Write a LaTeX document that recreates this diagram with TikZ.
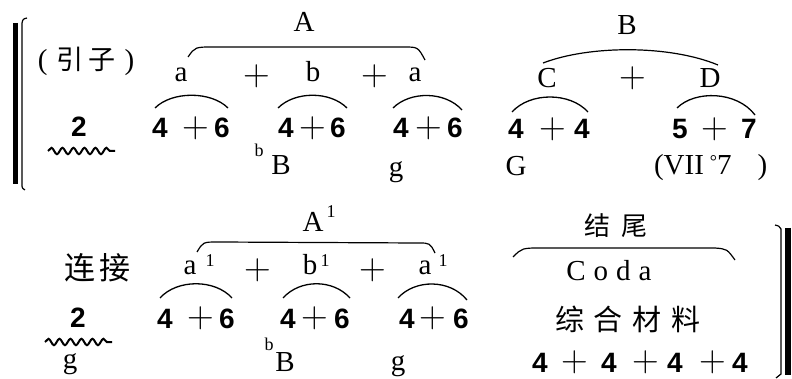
\documentclass[tikz,border=0pt]{standalone}
\usepackage{fontspec}
\setmainfont{Liberation Serif}
\newfontfamily\numfam{Liberation Sans}
\newfontfamily\cjk{Noto Sans CJK SC}
\newfontfamily\lmr{Latin Modern Roman}
\usetikzlibrary{decorations.pathmorphing}
\tikzset{
  txt/.style={inner sep=0pt, outer sep=0pt, font=\fontsize{29}{29}\selectfont},
  sup/.style={inner sep=0pt, outer sep=0pt, font=\fontsize{18}{18}\selectfont, anchor=base},
  lab/.style={txt, anchor=base},
  pls/.style={inner sep=0pt, outer sep=0pt, font=\lmr\fontsize{37}{37}\selectfont},
  dig/.style={inner sep=0pt, outer sep=0pt, anchor=base, font=\numfam\bfseries\fontsize{28}{28}\selectfont},
  cj/.style={inner sep=0pt, outer sep=0pt},
  arcl/.style={line width=1.3pt},
  bigarc/.style={line width=1.2pt},
  wave/.style={line width=2pt, decorate, decoration={snake, segment length=11pt, amplitude=3.2pt}}
}
\newcommand\dg[4]{\node[dig] (#1) at (#2,#3) {#4};}
\newcommand\pp[3]{\node[pls] (#1) at (#2,#3) {+};}
\begin{document}
\begin{tikzpicture}[x=1pt,y=-1pt]
\useasboundingbox (0,0) rectangle (792,379);
% ---------- left bracket ----------
\draw[line width=5pt] (15,23) -- (15,184);
\draw[line width=1.2pt] (27,18) .. controls (23,19) .. (22,23) -- (22,184) .. controls (22,188) .. (25,190);
% ---------- right bracket ----------
\draw[line width=6pt] (788,228) -- (788,375);
\draw[line width=1.2pt] (775,225) .. controls (779,226) .. (781,229) -- (781,374) .. controls (779,376) .. (776,378);

% ---------- row 1 ----------
\node[cj] (intro) at (86,61) {\fontsize{29}{29}\selectfont(\hspace{9pt}{\cjk\fontsize{27}{27}\selectfont 引\hspace{5pt}子}\hspace{9pt})};
\dg{two1}{79}{137}{2}
\coordinate (w1a) at (48,151);
\coordinate (w1b) at (115,151);
\draw[wave] (w1a) -- (w1b);

\node[lab] (Alab) at (304,32) {A};
\draw[bigarc] (188,57) .. controls (195,47) .. (214,47) -- (404,47) .. controls (418,47) .. (425,60);
\node[lab] (a1) at (181,82) {a};
\pp{p1}{257}{76}
\node[lab] (b1) at (313,82) {b};
\pp{p2}{375}{76}
\node[lab] (a2) at (415,82) {a};

\node[lab] (Blab) at (627,35) {B};
\draw[bigarc] (543,63) .. controls (590,45) and (670,45) .. (718,65);
\node[lab] (C) at (547,88) {C};
\pp{p3}{633}{78}
\node[lab] (D) at (710,88) {D};

\draw[arcl] (155,108) .. controls (172,91) and (211,91) .. (228,108);
\draw[arcl] (278,108) .. controls (295,91) and (330,91) .. (347,108);
\draw[arcl] (393,108) .. controls (410,91) and (445,91) .. (462,110);
\draw[arcl] (512,112) .. controls (530,92) and (570,92) .. (588,112);
\draw[arcl] (677,108) .. controls (695,90) and (737,91) .. (755,115);

\dg{d111}{160}{138}{4} \pp{d112}{196}{128} \dg{d113}{222}{138}{6}
\dg{d121}{286}{138}{4} \pp{d122}{313}{128} \dg{d123}{338}{138}{6}
\dg{d131}{401}{138}{4} \pp{d132}{429}{128} \dg{d133}{455}{138}{6}
\dg{d141}{516}{139}{4} \pp{d142}{553}{129} \dg{d143}{582}{139}{4}
\dg{d151}{680}{139}{5} \pp{d152}{715}{129} \dg{d153}{749}{139}{7}

\node[sup] (bfl1) at (259,157) {b};
\node[lab] (Bk1) at (281,175) {B};
\node[lab] (gk1) at (396,177) {g};
\node[lab] (Gk) at (516,176) {G};
\node[txt, anchor=base west] (vii) at (654,175) {(VII\hspace{6pt}\raisebox{7pt}{\fontsize{18}{18}\selectfont °}7\hspace{26pt})};

% ---------- row 2 ----------
\node[cj] (link) at (97,268) {\cjk\fontsize{31}{31}\selectfont 连\hspace{4pt}接};
\dg{two2}{78}{327}{2}
\coordinate (w2a) at (45,342);
\coordinate (w2b) at (112,342);
\draw[wave] (w2a) -- (w2b);
\node[lab] (gl2) at (70,368) {g};

\node[lab] (A1lab) at (313,232) {A};
\node[sup] (A1sup) at (331,218) {1};
\draw[bigarc] (197,252) .. controls (203,242) .. (218,242) -- (418,243) .. controls (430,243) .. (435,253);
\node[lab] (a21) at (190,275) {a};
\node[sup] (a21s) at (210,266) {1};
\pp{p4}{258}{270}
\node[lab] (b21) at (310,275) {b};
\node[sup] (b21s) at (325,266) {1};
\pp{p5}{373}{270}
\node[lab] (a22) at (425,275) {a};
\node[sup] (a22s) at (443,266) {1};

\draw[arcl] (160,298) .. controls (177,279) and (215,279) .. (232,298);
\draw[arcl] (283,298) .. controls (300,279) and (333,279) .. (350,298);
\draw[arcl] (398,298) .. controls (415,279) and (450,279) .. (467,300);

\dg{d211}{165}{328}{4} \pp{d212}{201}{318} \dg{d213}{227}{328}{6}
\dg{d221}{288}{328}{4} \pp{d222}{315}{318} \dg{d223}{342}{328}{6}
\dg{d231}{407}{328}{4} \pp{d232}{433}{318} \dg{d233}{461}{328}{6}

\node[sup] (bfl2) at (269,350) {b};
\node[lab] (Bk2) at (285,371) {B};
\node[lab] (gk2) at (398,370) {g};

\node[cj] (coda1) at (616,226) {\cjk\fontsize{26}{26}\selectfont 结\hspace{12pt}尾};
\draw[bigarc] (513,257) .. controls (522,248) .. (542,248) -- (715,248) .. controls (727,249) .. (735,260);
\node[lab] (coda) at (609,280) {C\hspace{8pt}o\hspace{8pt}d\hspace{8pt}a};
\node[cj] (mat) at (628,319) {\cjk\fontsize{29}{29}\selectfont 综\hspace{10pt}合\hspace{10pt}材\hspace{10pt}料};
\dg{c1}{540}{372}{4} \pp{c2}{575}{362} \dg{c3}{609}{372}{4} \pp{c4}{646}{362}
\dg{c5}{675}{372}{4} \pp{c6}{713}{362} \dg{c7}{740}{372}{4}
\end{tikzpicture}
\end{document}
